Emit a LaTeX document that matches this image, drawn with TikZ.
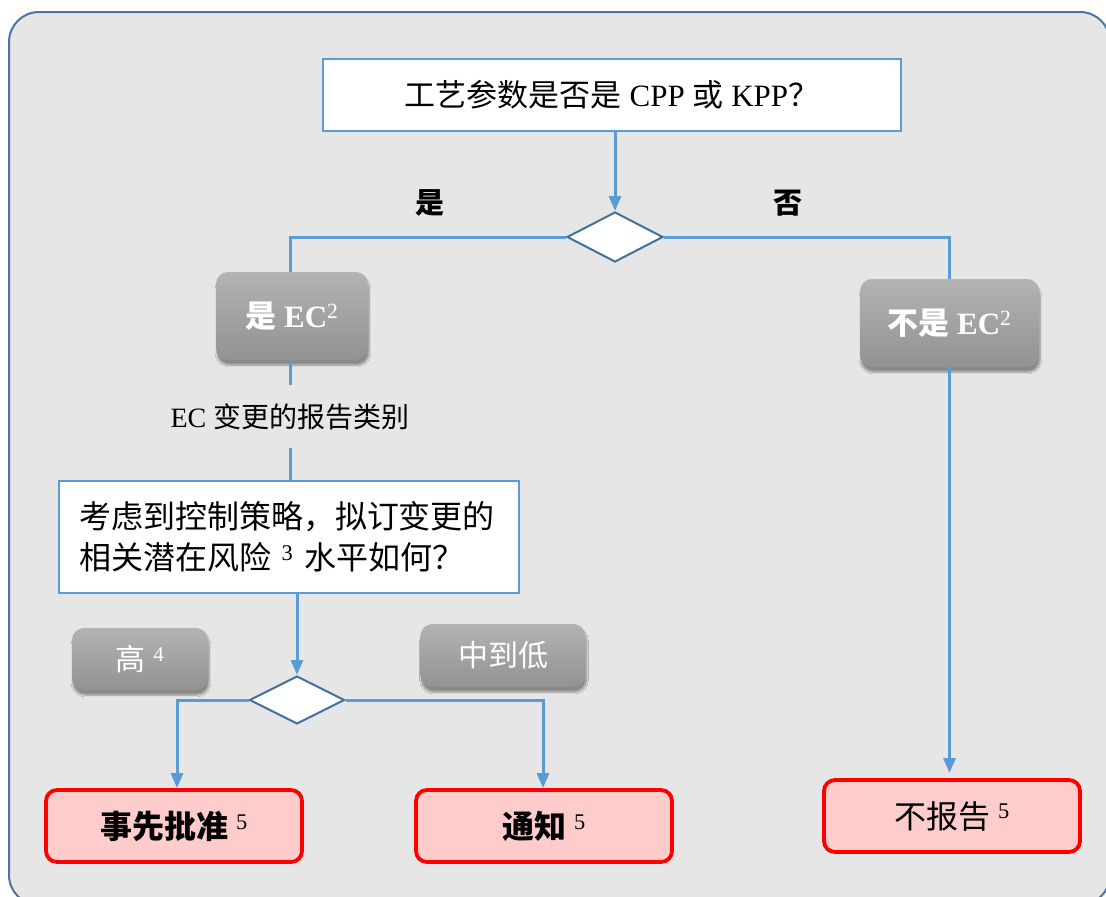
\documentclass[tikz,border=0pt]{standalone}
\usepackage{fontspec}
\setmainfont{Liberation Serif}
\newfontfamily\cjk{Noto Sans CJK SC}
\usetikzlibrary{arrows.meta,shapes.geometric,shadows.blur}
\newcommand\zh[1]{{\cjk #1}}
\definecolor{lblue}{HTML}{5B9BD5}
\definecolor{dblue}{HTML}{41719C}
\definecolor{frame}{HTML}{4F73A3}
\definecolor{bgc}{HTML}{E6E6E6}
\definecolor{gtop}{HTML}{B3B3B3}
\definecolor{gbot}{HTML}{929292}
\definecolor{pinkc}{HTML}{FFCCCC}
\tikzset{
  flow/.style={draw=lblue, line width=3pt},
  arr/.style={-{Triangle[width=12pt,length=15pt]}},
  qbox/.style={draw=lblue, fill=white, line width=2.6pt, inner sep=0pt},
  dec/.style={diamond, draw=dblue, fill=white, line width=2pt, inner sep=0pt},
  graybox/.style={rounded corners=12pt, top color=gtop, bottom color=gbot, draw=none,
    text=white, inner sep=0pt,
    blur shadow={shadow blur steps=8, shadow xshift=1pt, shadow yshift=-5pt, shadow opacity=40}},
  redbox/.style={draw=red, fill=pinkc, line width=3.8pt, rounded corners=11pt, inner sep=0pt},
  lbl/.style={inner sep=0pt},
}
\begin{document}
\begin{tikzpicture}[x=1pt,y=-1pt]
\useasboundingbox (0,0) rectangle (1106,897);
% frame
\draw[draw=frame, fill=bgc, line width=2pt, rounded corners=30pt] (9,12) rectangle (1110,905);

% top question
\node[qbox, minimum width=578pt, minimum height=72pt, font={\fontsize{31}{36}\selectfont}] (q1) at (612,95)
  {\zh{工艺参数是否是} CPP \zh{或} KPP\zh{？}};
\node[dec, minimum width=96pt, minimum height=50pt] (d1) at (615,237) {};

\node[lbl, font={\fontsize{29}{34}\selectfont\bfseries}] (yes) at (430,203) {\zh{是}};
\node[lbl, font={\fontsize{29}{34}\selectfont\bfseries}] (no) at (788,203) {\zh{否}};

\node[graybox, minimum width=152pt, minimum height=88pt, font={\fontsize{31}{36}\selectfont\bfseries}] (ec) at (292,316)
  {\zh{是} EC\textsuperscript{\normalfont 2}};
\node[graybox, minimum width=179pt, minimum height=88pt, font={\fontsize{31}{36}\selectfont\bfseries}] (nec) at (949.5,323)
  {\zh{不是} EC\textsuperscript{\normalfont 2}};

\node[lbl, minimum height=62pt, font={\fontsize{28}{32}\selectfont}] (cat) at (290,416.5)
  {EC \zh{变更的报告类别}};

\node[qbox, minimum width=460pt, minimum height=112pt, text width=420pt, inner xsep=20pt, align=left, font={\fontsize{32}{41}\selectfont}] (q2) at (289,537)
  {\zh{考虑到控制策略，拟订变更的}\\\zh{相关潜在风险} \textsuperscript{3} \zh{水平如何？}};

\node[dec, minimum width=95pt, minimum height=48pt] (d2) at (297,700) {};

\node[graybox, minimum width=136pt, minimum height=62pt, font={\fontsize{30}{34}\selectfont}] (hi) at (140,659)
  {\zh{高} \textsuperscript{4}};
\node[graybox, minimum width=165pt, minimum height=63pt, font={\fontsize{30}{34}\selectfont}] (mid) at (503,655.5)
  {\zh{中到低}};

\node[redbox, minimum width=256pt, minimum height=72pt, font={\fontsize{32}{36}\selectfont\bfseries}] (pa) at (174,826)
  {\zh{事先批准} \textsuperscript{\normalfont 5}};
\node[redbox, minimum width=256pt, minimum height=72pt, font={\fontsize{32}{36}\selectfont\bfseries}] (nt) at (544,826)
  {\zh{通知} \textsuperscript{\normalfont 5}};
\node[redbox, minimum width=256pt, minimum height=72pt, font={\fontsize{32}{36}\selectfont}] (nr) at (952,816)
  {\zh{不报告} \textsuperscript{5}};

% connectors
\draw[flow, arr] (q1.south -| d1.north) -- (d1.north);
\draw[flow] (d1.west) -| ([xshift=-2pt]ec.north);
\draw[flow] (d1.east) -| (nec.north);
\draw[flow] ([xshift=-2pt]ec.south) -- ([xshift=0pt]cat.north);
\draw[flow] (cat.south) -- (cat.south |- q2.north);
\draw[flow, arr] (q2.south -| d2.north) -- (d2.north);
\draw[flow, arr] (d2.west) -| ([xshift=3pt]pa.north);
\draw[flow, arr] (d2.east) -| ([xshift=-1pt]nt.north);
\draw[flow, arr] (nec.south) -- ([yshift=5pt]nr.north -| nec.south);
\end{tikzpicture}
\end{document}
